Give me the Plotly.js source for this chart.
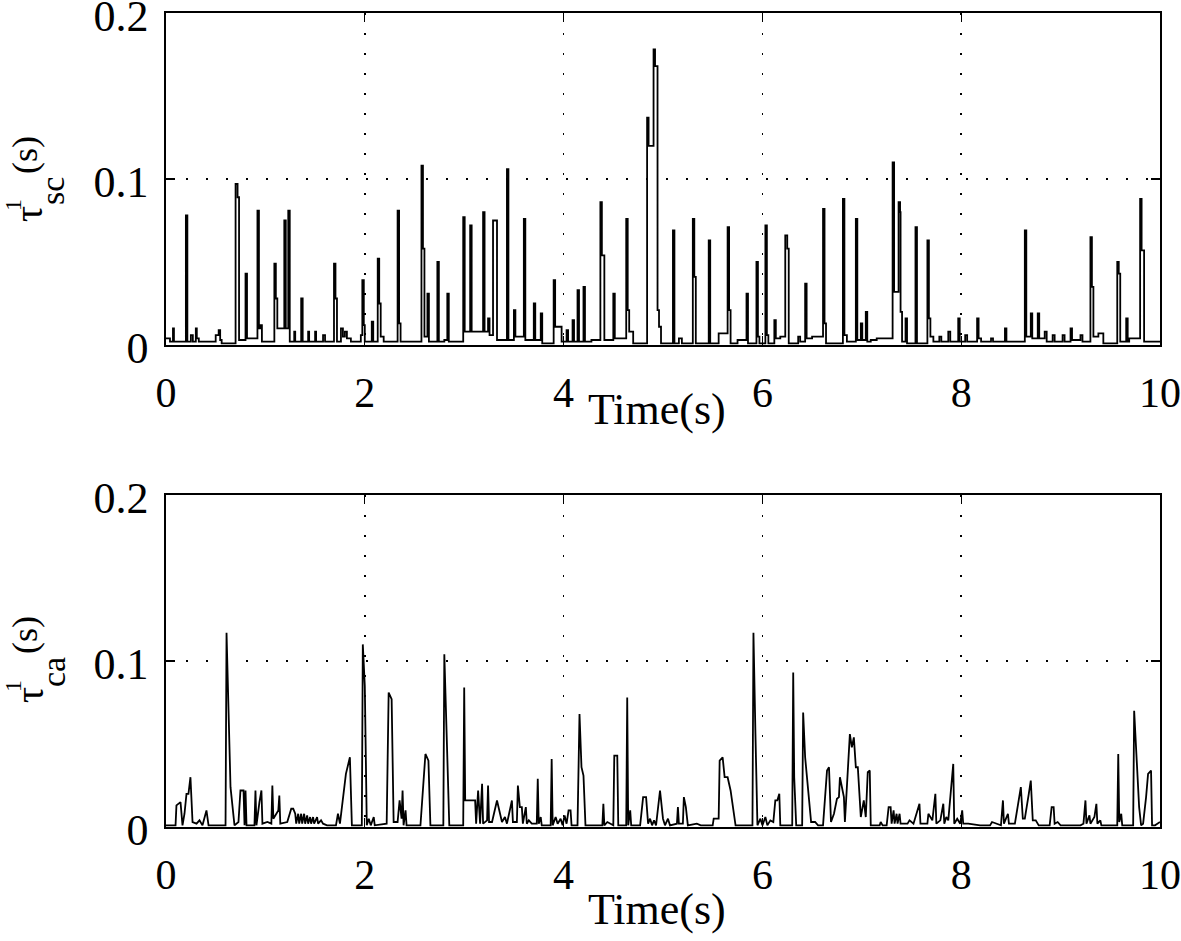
<!DOCTYPE html>
<html>
<head>
<meta charset="utf-8">
<script src="https://cdn.plot.ly/plotly-3.0.1.min.js"></script>
<style>html,body{margin:0;padding:0;background:#fff;}#chart{width:1181px;height:941px;}</style>
</head>
<body>
<div id="chart"></div>
<script>
// Top panel: tau^1_sc (s), stair-step series
const topT = [
0,0.04,0.07,0.08,0.20,0.215,0.25,0.27,0.30,0.31,
0.33,0.50,0.53,0.545,0.56,0.70,0.72,0.735,0.80,0.815,
0.92,0.935,0.95,0.965,1.09,1.105,1.12,1.19,1.205,1.23,
1.245,1.29,1.30,1.36,1.375,1.43,1.44,1.50,1.51,1.58,
1.60,1.69,1.705,1.72,1.76,1.78,1.80,1.82,1.86,1.96,
1.975,1.99,2.00,2.07,2.085,2.13,2.145,2.16,2.19,2.33,
2.345,2.36,2.57,2.585,2.60,2.63,2.645,2.73,2.745,2.80,
2.83,2.845,2.99,3.005,3.06,3.075,3.19,3.205,3.24,3.255,
3.29,3.33,3.43,3.445,3.50,3.515,3.60,3.615,3.70,3.715,
3.77,3.785,3.90,3.915,3.98,4.03,4.045,4.09,4.105,4.14,
4.155,4.20,4.215,4.28,4.37,4.385,4.41,4.50,4.515,4.63,
4.645,4.66,4.70,4.84,4.855,4.905,4.92,4.945,4.96,4.98,
5.10,5.115,5.16,5.19,5.30,5.315,5.33,5.46,5.475,5.56,
5.65,5.665,5.68,5.75,5.84,5.855,5.94,5.955,5.97,6.03,
6.045,6.06,6.12,6.135,6.18,6.23,6.25,6.265,6.36,6.38,
6.43,6.445,6.50,6.61,6.625,6.64,6.81,6.825,6.85,6.94,
6.955,6.99,7.005,7.04,7.055,7.09,7.15,7.31,7.325,7.37,
7.385,7.39,7.405,7.44,7.455,7.54,7.555,7.66,7.675,7.69,
7.72,7.78,7.80,7.87,7.89,7.97,7.985,8.04,8.06,8.16,
8.175,8.20,8.30,8.32,8.44,8.455,8.64,8.655,8.70,8.715,
8.77,8.785,8.84,8.86,8.92,8.94,9.02,9.04,9.10,9.115,
9.20,9.22,9.30,9.315,9.33,9.38,9.43,9.57,9.585,9.60,
9.66,9.675,9.69,9.80,9.815,9.84,10.0
];
const topV = [
0.004,0.002,0.01,0.002,0.078,0.002,0.006,0.002,0.01,0.004,
0.002,0.006,0.009,0.003,0.001,0.097,0.089,0.003,0.043,0.004,
0.081,0.01,0.012,0.002,0.049,0.028,0.01,0.075,0.01,0.081,
0.002,0.008,0.002,0.028,0.002,0.008,0.002,0.008,0.002,0.006,
0.002,0.049,0.028,0.002,0.01,0.005,0.008,0.004,0.002,0.006,
0.039,0.012,0.002,0.014,0.002,0.052,0.025,0.005,0.002,0.081,
0.013,0.002,0.108,0.058,0.005,0.031,0.002,0.05,0.002,0.003,
0.031,0.002,0.077,0.008,0.072,0.008,0.08,0.008,0.016,0.006,
0.075,0.003,0.106,0.003,0.021,0.005,0.076,0.003,0.025,0.003,
0.019,0.001,0.039,0.011,0.002,0.009,0.002,0.015,0.002,0.033,
0.002,0.035,0.002,0.003,0.086,0.054,0.003,0.031,0.004,0.076,
0.021,0.008,0.001,0.137,0.12,0.178,0.168,0.021,0.011,0.001,
0.069,0.001,0.004,0.001,0.076,0.041,0.001,0.063,0.001,0.007,
0.071,0.021,0.001,0.003,0.031,0.001,0.05,0.005,0.001,0.072,
0.006,0.001,0.015,0.004,0.005,0.066,0.058,0.001,0.005,0.002,
0.037,0.004,0.005,0.082,0.013,0.001,0.088,0.006,0.002,0.076,
0.003,0.013,0.003,0.02,0.002,0.003,0.004,0.11,0.032,0.086,
0.08,0.02,0.002,0.016,0.001,0.071,0.001,0.063,0.016,0.005,
0.002,0.005,0.002,0.008,0.002,0.016,0.002,0.006,0.002,0.016,
0.004,0.002,0.004,0.002,0.01,0.002,0.069,0.005,0.019,0.004,
0.019,0.004,0.008,0.002,0.006,0.002,0.006,0.002,0.01,0.003,
0.006,0.002,0.065,0.035,0.005,0.007,0.001,0.05,0.043,0.002,
0.016,0.002,0.004,0.088,0.057,0.002,0.002
];

// Bottom panel: tau^1_ca (s)
const botT = [
0,0.096,0.105,0.146,0.166,0.186,0.206,0.226,0.246,0.267,
0.307,0.337,0.367,0.407,0.428,0.599,0.609,0.629,0.649,0.689,
0.729,0.749,0.78,0.79,0.80,0.81,0.89,0.90,0.91,0.94,
0.96,0.97,1.02,1.06,1.07,1.08,1.11,1.13,1.14,1.15,
1.22,1.26,1.28,1.30,1.31,1.33,1.34,1.36,1.37,1.39,
1.40,1.42,1.43,1.45,1.46,1.48,1.49,1.52,1.53,1.56,
1.58,1.62,1.71,1.73,1.75,1.81,1.85,1.87,1.97,1.98,
2.00,2.02,2.04,2.06,2.09,2.10,2.22,2.24,2.27,2.29,
2.33,2.35,2.37,2.38,2.39,2.41,2.42,2.56,2.61,2.64,
2.66,2.79,2.80,2.83,2.85,2.99,3.00,3.01,3.11,3.12,
3.14,3.16,3.18,3.19,3.23,3.24,3.25,3.28,3.33,3.38,
3.41,3.43,3.48,3.49,3.53,3.54,3.56,3.58,3.59,3.62,
3.63,3.65,3.68,3.73,3.74,3.75,3.77,3.78,3.87,3.88,
3.89,3.92,3.94,3.97,3.99,4.01,4.03,4.05,4.07,4.08,
4.14,4.16,4.18,4.20,4.22,4.39,4.40,4.41,4.44,4.50,
4.51,4.54,4.55,4.63,4.64,4.65,4.67,4.68,4.77,4.80,
4.83,4.85,4.87,4.89,4.91,4.93,4.97,5.00,5.02,5.05,
5.07,5.14,5.15,5.16,5.20,5.21,5.23,5.25,5.34,5.38,
5.50,5.51,5.56,5.57,5.60,5.62,5.65,5.68,5.73,5.90,
5.91,5.93,5.95,5.98,6.00,6.03,6.05,6.08,6.11,6.13,
6.15,6.17,6.18,6.30,6.31,6.32,6.34,6.40,6.41,6.43,
6.49,6.53,6.56,6.61,6.65,6.67,6.69,6.72,6.75,6.77,
6.78,6.82,6.83,6.88,6.90,6.92,6.94,6.96,6.99,7.02,
7.04,7.06,7.08,7.09,7.18,7.19,7.21,7.25,7.27,7.29,
7.30,7.32,7.33,7.35,7.36,7.38,7.39,7.46,7.48,7.52,
7.58,7.59,7.66,7.67,7.71,7.74,7.75,7.79,7.82,7.83,
7.85,7.87,7.92,7.93,7.96,7.99,8.01,8.02,8.07,8.19,
8.29,8.31,8.40,8.42,8.43,8.47,8.48,8.54,8.60,8.62,
8.64,8.68,8.70,8.72,8.75,8.78,8.89,8.91,8.93,8.94,
8.97,9.00,9.20,9.23,9.25,9.26,9.29,9.30,9.34,9.36,
9.37,9.40,9.41,9.57,9.58,9.59,9.61,9.62,9.73,9.74,
9.76,9.79,9.81,9.83,9.86,9.88,9.91,9.92,9.95,10.0
];
const botV = [
0.001,0.001,0.013,0.015,0.001,0.008,0.02,0.02,0.03,0.003,
0.002,0.004,0.001,0.01,0.001,0.001,0.117,0.06,0.024,0.001,
0.003,0.022,0.022,0.001,0.022,0.001,0.001,0.022,0.001,0.015,
0.022,0.002,0.003,0.002,0.025,0.005,0.008,0.01,0.019,0.002,
0.003,0.011,0.011,0.008,0.002,0.008,0.002,0.008,0.002,0.008,
0.002,0.007,0.002,0.006,0.002,0.006,0.002,0.006,0.002,0.004,
0.002,0.001,0.001,0.008,0.002,0.032,0.042,0.001,0.001,0.11,
0.085,0.001,0.005,0.001,0.006,0.001,0.002,0.081,0.077,0.003,
0.003,0.016,0.005,0.022,0.001,0.01,0.001,0.001,0.044,0.04,
0.001,0.001,0.104,0.034,0.001,0.001,0.084,0.016,0.016,0.002,
0.022,0.002,0.026,0.002,0.004,0.025,0.003,0.003,0.016,0.003,
0.006,0.002,0.016,0.003,0.003,0.025,0.012,0.012,0.002,0.012,
0.002,0.004,0.002,0.002,0.029,0.002,0.006,0.001,0.001,0.041,
0.001,0.006,0.002,0.005,0.001,0.007,0.002,0.01,0.01,0.001,
0.001,0.068,0.036,0.031,0.001,0.001,0.014,0.001,0.003,0.001,
0.043,0.043,0.001,0.001,0.078,0.001,0.01,0.001,0.001,0.018,
0.018,0.002,0.005,0.001,0.004,0.001,0.022,0.005,0.001,0.005,
0.001,0.002,0.012,0.002,0.002,0.018,0.012,0.001,0.002,0.001,
0.001,0.005,0.005,0.04,0.042,0.03,0.03,0.022,0.001,0.001,
0.117,0.056,0.001,0.005,0.001,0.006,0.001,0.004,0.003,0.016,
0.016,0.02,0.001,0.001,0.093,0.03,0.001,0.001,0.069,0.042,
0.003,0.003,0.001,0.001,0.034,0.036,0.003,0.008,0.017,0.018,
0.03,0.018,0.003,0.056,0.048,0.054,0.036,0.036,0.006,0.016,
0.006,0.033,0.034,0.001,0.001,0.003,0.001,0.001,0.012,0.012,
0.002,0.01,0.002,0.008,0.002,0.008,0.002,0.002,0.004,0.002,
0.014,0.002,0.002,0.008,0.004,0.02,0.002,0.004,0.014,0.002,
0.006,0.004,0.038,0.002,0.005,0.002,0.01,0.002,0.002,0.001,
0.001,0.003,0.001,0.016,0.002,0.008,0.002,0.002,0.024,0.005,
0.005,0.02,0.028,0.004,0.004,0.001,0.001,0.012,0.012,0.002,
0.003,0.001,0.001,0.002,0.016,0.002,0.007,0.002,0.006,0.014,
0.002,0.004,0.001,0.001,0.044,0.003,0.008,0.001,0.001,0.07,
0.048,0.012,0.001,0.002,0.018,0.032,0.034,0.001,0.001,0.003
];

const xTickVals = [0, 2, 4, 6, 8, 10];
const yTickVals = [0, 0.1, 0.2];
const yTickText = ['0', '0.1', '0.2'];
const xLabel = "Time(s)";
const yMain = "τ";
const ySup = "1";
const ySubTop = "sc";
const ySubBot = "ca";
const yUnit = "(s)";

const FONT = '"Liberation Serif", "Times New Roman", Times, serif';

const traces = [
  {x: topT, y: topV, type: 'scatter', mode: 'lines', line: {color: '#000', width: 1.8, shape: 'hv'}, xaxis: 'x', yaxis: 'y', hoverinfo: 'skip'},
  {x: botT, y: botV, type: 'scatter', mode: 'lines', line: {color: '#000', width: 1.8, shape: 'linear'}, xaxis: 'x2', yaxis: 'y2', hoverinfo: 'skip'}
];

function xAxis(anchor) {
  return {
    anchor: anchor, domain: [0, 1], range: [0, 10],
    tickmode: 'array', tickvals: xTickVals, ticktext: xTickVals.map(String),
    ticks: 'inside', ticklen: 9, tickwidth: 1.3, tickcolor: '#000',
    showline: true, linecolor: '#000', linewidth: 1.6, mirror: 'ticks',
    showgrid: true, gridcolor: '#000', gridwidth: 1.6, griddash: '2px,18px',
    zeroline: false, tickfont: {family: FONT, size: 42, color: '#000'},
    ticklabelstandoff: 10, ticklabeloverflow: 'allow'
  };
}
function yAxis(anchor, dom) {
  return {
    anchor: anchor, domain: dom, range: [0, 0.2],
    tickmode: 'array', tickvals: yTickVals, ticktext: yTickText,
    ticks: 'inside', ticklen: 9, tickwidth: 1.3, tickcolor: '#000',
    showline: true, linecolor: '#000', linewidth: 1.6, mirror: 'ticks',
    showgrid: true, gridcolor: '#000', gridwidth: 1.6, griddash: '2px,18px',
    zeroline: false, tickfont: {family: FONT, size: 44, color: '#000'},
    ticklabelstandoff: 7, ticklabelshift: 3, ticklabeloverflow: 'allow'
  };
}

// paper coordinate helpers (margins l=166, r=21, t=13, b=114)
const PW = 994, PH = 814;
function px(x) { return (x - 166) / PW; }
function py(y) { return (827 - y) / PH; }

function ann(text, xpx, ypx, size, angle) {
  return {text: text, xref: 'paper', yref: 'paper', x: px(xpx), y: py(ypx),
    xanchor: 'center', yanchor: 'middle', showarrow: false, textangle: angle,
    font: {family: FONT, size: size, color: '#000'}};
}

const annotations = [
  ann(xLabel, 657, 410, 44, 0),
  ann(xLabel, 657, 910, 44, 0),
  ann(yMain, 29, 214, 40, -90),
  ann(ySup, 13, 205, 24, -90),
  ann(ySubTop, 53, 191, 34, -90),
  ann(yUnit, 25, 155, 36, -90),
  ann(yMain, 29, 695, 40, -90),
  ann(ySup, 13, 686, 24, -90),
  ann(ySubBot, 53, 672, 34, -90),
  ann(yUnit, 25, 635, 36, -90)
];

const layout = {
  width: 1181, height: 941,
  margin: {l: 166, r: 21, t: 13, b: 114},
  paper_bgcolor: '#fff', plot_bgcolor: '#fff',
  showlegend: false,
  font: {family: FONT, color: '#000'},
  xaxis: xAxis('y'),
  yaxis: yAxis('x', [482 / 814, 1]),
  xaxis2: xAxis('y2'),
  yaxis2: yAxis('x2', [0, 332 / 814]),
  annotations: annotations
};

Plotly.newPlot('chart', traces, layout, {displayModeBar: false, staticPlot: true});
</script>
</body>
</html>
